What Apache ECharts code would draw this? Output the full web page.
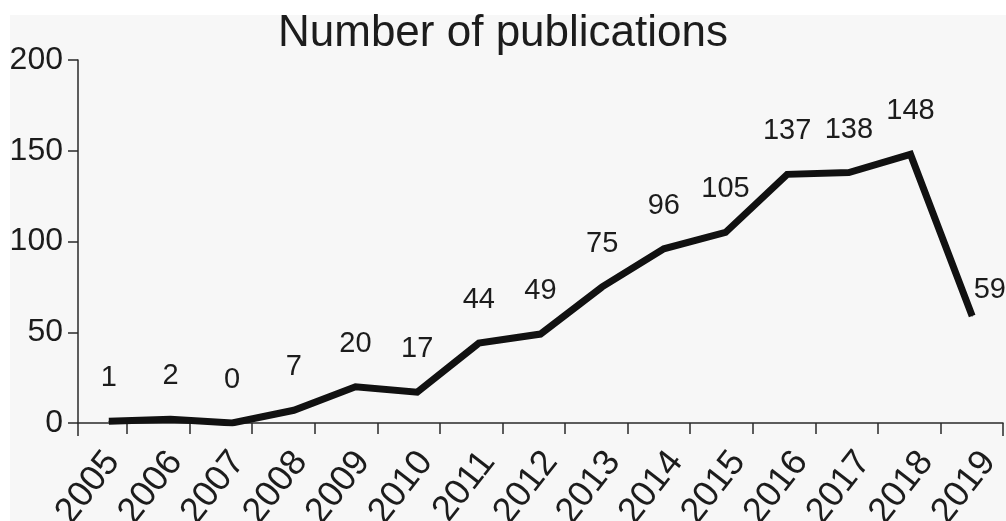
<!DOCTYPE html>
<html>
<head>
<meta charset="utf-8">
<script src="https://cdn.jsdelivr.net/npm/echarts@6/dist/echarts.min.js"></script>
<style>
html,body{margin:0;padding:0;background:#ffffff;}
#chart{width:1006px;height:521px;}
</style>
</head>
<body>
<div id="chart"></div>
<script>
var years = ['2005','2006','2007','2008','2009','2010','2011','2012','2013','2014','2015','2016','2017','2018','2019'];
var publications = [1, 2, 0, 7, 20, 17, 44, 49, 75, 96, 105, 137, 138, 148, 59];
var yTicks = [0, 50, 100, 150, 200];

var chart = echarts.init(document.getElementById('chart'));
var FONT = 'Liberation Sans, Arial, sans-serif';
var seriesData = publications.map(function (v, i) {
  if (i === publications.length - 1) {
    return { value: v, label: { position: [2, -40] } };
  }
  return v;
});

chart.setOption({
  backgroundColor: '#ffffff',
  graphic: [{
    type: 'rect', z: -10, silent: true,
    shape: { x: 10, y: 15, width: 996, height: 506 },
    style: { fill: '#f7f7f7' }
  }],
  title: {
    text: 'Number of publications',
    left: 'center', top: 7,
    textStyle: { fontFamily: FONT, fontSize: 44, fontWeight: 'normal', color: '#1c1c1c' }
  },
  grid: [
    { left: 78, right: 3, top: 60, bottom: 98, containLabel: false, outerBoundsMode: 'none' },
    { left: 127, right: 3, top: 60, bottom: 98, containLabel: false, outerBoundsMode: 'none' }
  ],
  xAxis: [{
    type: 'category', gridIndex: 0, data: years, boundaryGap: true,
    axisLine: { show: true, lineStyle: { color: '#2a2a2a', width: 1.5 } },
    axisTick: { show: true, length: 13, interval: function (i) { return i === 0; }, lineStyle: { color: '#2a2a2a', width: 1.5 } },
    axisLabel: { show: false }
  }, {
    type: 'category', gridIndex: 1, data: years, boundaryGap: false,
    axisLine: { show: false },
    axisTick: { show: true, length: 11, lineStyle: { color: '#2a2a2a', width: 1.5 } },
    axisLabel: { rotate: 52, margin: 44, verticalAlign: 'bottom', fontFamily: FONT, fontSize: 36, color: '#1c1c1c', interval: 0 }
  }],
  yAxis: [{
    type: 'value', gridIndex: 0, min: yTicks[0], max: yTicks[yTicks.length - 1], interval: 50,
    splitLine: { show: false },
    axisLine: { show: true, lineStyle: { color: '#2a2a2a', width: 1.5 } },
    axisTick: { show: true, length: 10, lineStyle: { color: '#2a2a2a', width: 1.5 } },
    axisLabel: { margin: 15, fontFamily: FONT, fontSize: 32, color: '#1c1c1c' }
  }, {
    type: 'value', gridIndex: 1, min: 0, max: 200, show: false
  }],
  series: [{
    type: 'line', xAxisIndex: 0, yAxisIndex: 0,
    data: seriesData,
    symbol: 'circle', symbolSize: 1, showSymbol: true,
    itemStyle: { color: '#111111' },
    lineStyle: { color: '#111111', width: 7, join: 'miter' },
    label: { show: true, position: 'top', distance: 28, fontFamily: FONT, fontSize: 29, color: '#1c1c1c' },
    labelLayout: { hideOverlap: false },
    animation: false
  }],
  animation: false
});
</script>
</body>
</html>
